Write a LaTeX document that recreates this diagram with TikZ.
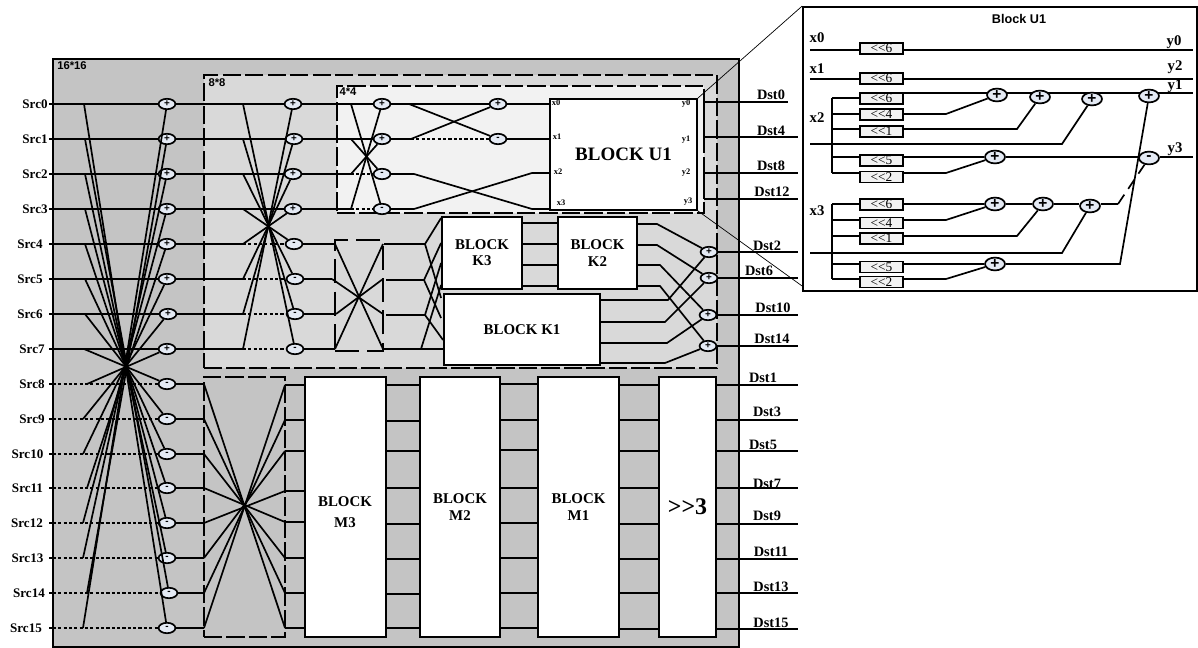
\documentclass[tikz,border=0pt]{standalone}
\usepackage{fontspec}
\setmainfont{Liberation Serif}
\setsansfont{Liberation Sans}
\usepackage{tikz}
\usetikzlibrary{shapes.geometric}
\definecolor{stagea}{HTML}{C4C4C4}
\definecolor{stageb}{HTML}{D9D9D9}
\definecolor{stagec}{HTML}{F2F2F2}
\definecolor{addfill}{HTML}{E4EAF4}

\begin{document}
\begin{tikzpicture}[
    x=0.025cm, y=-0.025cm,
    wire/.style={line width=1.2pt},
    dotwire/.style={line width=1.2pt, dash pattern=on 2.2pt off 1.6pt},
    brokenwire/.style={line width=1.2pt, dash pattern=on 8pt off 5pt},
    lens/.style={line width=0.5pt},
    stagebox/.style={rectangle, line width=1.2pt, dash pattern=on 13pt off 3pt, inner sep=0pt},
    blockbox/.style={rectangle, draw=black, line width=1.3pt, fill=white, inner sep=0pt, align=center,
                     font=\bfseries\fontsize{10.6}{11.5}\selectfont},
    shiftbox/.style={rectangle, draw=black, line width=1.2pt, fill=stagec, inner sep=0pt,
                     minimum width=1.075cm, minimum height=0.27cm, font=\fontsize{9.5}{8}\selectfont},
    adder/.style={ellipse, draw=black, line width=1.2pt, fill=addfill, inner sep=0pt,
                  minimum width=0.42cm, minimum height=0.26cm, font=\sffamily\bfseries\fontsize{7}{6}\selectfont},
    bigadder/.style={adder, minimum width=0.5cm, minimum height=0.32cm, font=\sffamily\bfseries\fontsize{11}{10}\selectfont},
    portl/.style={font=\bfseries\fontsize{9.3}{10}\selectfont, inner sep=0pt},
    dstl/.style={font=\bfseries\fontsize{10.2}{10}\selectfont, inner sep=0pt},
    pinl/.style={font=\bfseries\fontsize{6}{6}\selectfont, inner sep=0pt},
    busl/.style={font=\bfseries\fontsize{10.5}{10}\selectfont, inner sep=0pt},
    sizel/.style={font=\sffamily\bfseries\fontsize{8}{8}\selectfont, inner sep=0pt},
]
\useasboundingbox (0,0) rectangle (1198,648);

% nested stages
\node[stagebox, draw=black, fill=stagea, solid, line width=1.6pt, minimum width=17.15cm, minimum height=14.7cm] (s16) at (396,353) {};
\node[stagebox, draw=black, fill=stageb, minimum width=12.825cm, minimum height=7.325cm] (s8) at (460.5,221.5) {};
\node[stagebox, draw=black, fill=stagec, minimum width=9.175cm, minimum height=3.175cm] (s4) at (520.5,149.5) {};
\node[stagebox, draw=black, minimum width=2.025cm, minimum height=6.5cm] (sm) at (244.5,507) {};
\node[stagebox, draw=black, dash pattern=on 17pt off 6pt, minimum width=1.2cm, minimum height=2.775cm] (sq) at (359,295.5) {};
\node[sizel] (l16) at (72,66) {16*16};
\node[sizel] (l8) at (217,83) {8*8};
\node[sizel] (l4) at (348,92) {4*4};

% blocks
\node[blockbox, minimum width=3.675cm, minimum height=2.775cm, font=\bfseries\fontsize{13.5}{14}\selectfont] (u1) at (623.5,154.5) {BLOCK U1};
\node[blockbox, minimum width=2cm, minimum height=1.8cm] (k3) at (482,253) {BLOCK\\K3};
\node[blockbox, minimum width=1.975cm, minimum height=1.8cm] (k2) at (597.5,253) {BLOCK\\K2};
\node[blockbox, minimum width=3.9cm, minimum height=1.775cm] (k1) at (522,329.5) {BLOCK K1};
\node[blockbox, minimum width=2.025cm, minimum height=6.5cm] (m3) at (345.5,507) {};
\node[font=\bfseries\fontsize{10.6}{11.5}\selectfont, align=center, inner sep=0pt] (m3t) at (345,512) {BLOCK\\[3pt]M3};
\node[blockbox, minimum width=2cm, minimum height=6.5cm] (m2) at (460,507) {BLOCK\\M2};
\node[blockbox, minimum width=2.025cm, minimum height=6.5cm] (m1) at (578.5,507) {BLOCK\\M1};
\node[blockbox, minimum width=1.425cm, minimum height=6.5cm, font=\bfseries\fontsize{17}{17}\selectfont] (sh) at (687.5,507) {>{}>3};

% U1 pins
\node[pinl] (x0) at (556,103) {x0};
\node[pinl] (x1) at (557,137) {x1};
\node[pinl] (x2) at (558,172) {x2};
\node[pinl] (x3) at (561,203) {x3};
\node[pinl] (y0) at (686,104) {y0};
\node[pinl] (y1) at (686,140) {y1};
\node[pinl] (y2) at (686,173) {y2};
\node[pinl] (y3) at (688,202) {y3};

% 16 point inputs
\foreach \n/\y/\lx/\bx/\ax in {0/104/35/84/167, 1/139/35/85/167, 2/174/35/85/167, 3/209/35/85/167,
    4/244/30/85/167, 5/279/30/85/167, 6/314/30/85/168, 7/349/32/84/167}{
  \node[portl] (src\n) at (\lx,\y) {Src\n};
  \coordinate (in\n) at (49,\y);
  \coordinate (l\n) at (\bx,\y);
  \node[adder] (a\n) at (\ax,\y) {+};
  \draw[wire] (in\n) -- (a\n);
}
\foreach \n/\y/\lx/\bx/\ax in {8/384/32/87/167, 9/419/32/83/167, 10/454/27.5/83/167, 11/488/27.5/87/167,
    12/523/27/83/167, 13/558/27.5/83/167, 14/593/29/87/169, 15/628/26/83/167}{
  \node[portl] (src\n) at (\lx,\y) {Src\n};
  \coordinate (in\n) at (49,\y);
  \coordinate (b\n) at (53,\y);
  \coordinate (l\n) at (\bx,\y);
  \node[adder] (a\n) at (\ax,\y) {-};
  \draw[wire] (in\n) -- (b\n);
  \draw[dotwire] (b\n) -- (a\n);
}
\foreach \n in {0,...,15}{
  \pgfmathtruncatemacro{\m}{15-\n}
  \draw[wire] (l\n) -- (a\m);
}

% 8 point stage
\foreach \n/\y/\ax in {0/104/293, 1/139/294, 2/174/293, 3/209/293}{
  \node[adder] (c\n) at (\ax,\y) {+};
  \coordinate (cl\n) at (243,\y);
  \draw[wire] (a\n) -- (c\n);
}
\foreach \n/\y/\ax in {4/244/294, 5/279/295, 6/314/295, 7/349/295}{
  \node[adder] (c\n) at (\ax,\y) {-};
  \coordinate (cl\n) at (243,\y);
  \draw[wire] (a\n) -- (cl\n);
  \draw[dotwire] (cl\n) -- (c\n);
}
\foreach \n in {0,...,7}{
  \pgfmathtruncatemacro{\m}{7-\n}
  \draw[wire] (cl\n) -- (c\m);
}

% 8 point lower stage
\foreach \n/\y in {8/384,9/419,10/454,11/488,12/523,13/558,14/593,15/628}{
  \coordinate (ml\n) at (204,\y);
  \draw[wire] (a\n) -- (ml\n);
}
\foreach \n/\y in {8/385,9/420,10/451,11/491,12/522,13/558,14/593,15/628}{
  \coordinate (mr\n) at (285,\y);
  \draw[wire] (mr\n) -- (mr\n -| m3.west);
}
\foreach \n in {8,...,15}{
  \pgfmathtruncatemacro{\m}{23-\n}
  \draw[wire] (ml\n) -- (mr\m);
}

% 4 point stage
\foreach \n/\y/\k in {0/104/0,1/139/1}{
  \node[adder] (d\n) at (382,\y) {+};
  \coordinate (dl\n) at (351,\y);
  \draw[wire] (c\k) -- (d\n);
}
\foreach \n/\y/\k in {2/174/2,3/209/3}{
  \node[adder] (d\n) at (382,\y) {-};
  \coordinate (dl\n) at (351,\y);
  \draw[wire] (c\k) -- (dl\n);
  \draw[dotwire] (dl\n) -- (d\n);
}
\foreach \n in {0,...,3}{
  \pgfmathtruncatemacro{\m}{3-\n}
  \draw[wire] (dl\n) -- (d\m);
}
\node[adder] (e0) at (498,104) {+};
\node[adder] (e1) at (498,139) {-};
\coordinate (f0) at (409,104);
\coordinate (f1) at (411,139);
\coordinate (f2) at (414,174);
\coordinate (f3) at (414,209);
\coordinate (g2) at (532,173);
\coordinate (g3) at (532,209);
\draw[wire] (d0) -- (f0) -- (e1);
\draw[wire] (f0) -- (e0);
\draw[wire] (d1) -- (f1) -- (e0);
\draw[dotwire] (f1) -- (e1);
\draw[wire] (e0) -- (e0 -| u1.west);
\draw[wire] (e1) -- (e1 -| u1.west);
\draw[wire] (d2) -- (f2) -- (g3) -- (g3 -| u1.west);
\draw[wire] (d3) -- (f3) -- (g2) -- (g2 -| u1.west);

% inner butterfly before K blocks
\coordinate (ql0) at (335,244);
\coordinate (ql1) at (332,279);
\coordinate (ql2) at (336,314);
\coordinate (ql3) at (335,349);
\coordinate (qr0) at (383,349);
\coordinate (qr1) at (383,314);
\coordinate (qr2) at (383,279);
\coordinate (qr3) at (383,244);
\foreach \n/\k in {0/4,1/5,2/6,3/7}{
  \draw[wire] (c\k) -- (ql\n);
  \draw[wire] (ql\n) -- (qr\n);
}
\coordinate (t0) at (425,244);
\coordinate (t1) at (424,280);
\coordinate (t2) at (425,315);
\coordinate (t3) at (421,349);
\draw[wire] (384,244) -- (t0);
\draw[wire] (386,280) -- (t1);
\draw[wire] (386,315) -- (t2);
\draw[wire] (qr0) -- (t3) -- (t3 -| k1.west);
\draw[wire] (k3.west |- 0,218) -- (t0) -- (k3.west |- 0,298);
\draw[wire] (k3.west |- 0,243) -- (t1) -- (k3.west |- 0,318);
\draw[wire] (k3.west |- 0,263) -- (t2) -- (k1.west |- 0,340);
\draw[wire] (t3) -- (k3.west |- 0,285);

% K blocks to outputs
\foreach \y in {223,244,265,286}{
  \draw[wire] (k3.east |- 0,\y) -- (k2.west |- 0,\y);
}
\node[adder] (h0) at (709,252) {+};
\node[adder] (h1) at (709,278) {+};
\node[adder] (h2) at (708,315) {+};
\node[adder] (h3) at (708,346) {+};
\draw[wire] (k2.east |- 0,224) -- (657,224) -- (h0);
\draw[wire] (k2.east |- 0,245) -- (657,245) -- (h1);
\draw[wire] (k2.east |- 0,265) -- (660,265) -- (h2);
\draw[wire] (k2.east |- 0,286) -- (660,286) -- (h3);
\draw[wire] (k1.east |- 0,300) -- (668,300) -- (h0);
\draw[wire] (k1.east |- 0,322) -- (665,322) -- (h1);
\draw[wire] (k1.east |- 0,343) -- (667,343) -- (h2);
\draw[wire] (k1.east |- 0,363) -- (665,363) -- (h3);

% middle rows
\foreach \y in {385,421,451,488,524,559,594,628}{
  \draw[wire] (m3.east |- 0,\y) -- (m2.west |- 0,\y);
}
\foreach \y in {384,420,450,488,523,558,593,628}{
  \draw[wire] (m2.east |- 0,\y) -- (m1.west |- 0,\y);
}
\foreach \y in {385,420,451,488,524,559,593,629}{
  \draw[wire] (m1.east |- 0,\y) -- (sh.west |- 0,\y);
}

% outputs
\foreach \n/\y/\lx/\ly in {1/385/763/378, 3/420/767/412, 5/451/763/445, 7/488/767/484,
    9/524/767/516, 11/559/771/552, 13/593/771/587, 15/629/771/623}{
  \node[dstl] (dst\n) at (\lx,\ly) {Dst\n};
  \coordinate (o\n) at (798,\y);
  \draw[wire] (sh.east |- o\n) -- (o\n);
}
\foreach \n/\y/\lx/\ly/\k in {2/252/767/246/h0, 6/278/759/271/h1, 10/315/773/308/h2, 14/346/772/339/h3}{
  \node[dstl] (dst\n) at (\lx,\ly) {Dst\n};
  \coordinate (o\n) at (798,\y);
  \draw[wire] (\k) -- (o\n);
}
\foreach \n/\y/\lx/\ly/\ex in {0/102/771/95/788, 4/137/771/131/798, 8/173/771/166/798, 12/199/772/192/798}{
  \node[dstl] (dst\n) at (\lx,\ly) {Dst\n};
  \coordinate (o\n) at (\ex,\y);
  \coordinate (ob\n) at (704,\y);
  \draw[wire] (ob\n) -- (o\n);
}
\draw[wire] (ob0) -- (ob4);
\draw[wire] (ob8) -- (ob12);

% detail of U1
\node[rectangle, draw=black, line width=1.2pt, fill=white, inner sep=0pt, minimum width=9.85cm, minimum height=7.1cm] (panel) at (1000,149) {};
\draw[lens] (u1.north east) -- (panel.north west);
\draw[lens] (u1.south east) -- (panel.west |- 0,286);
\node[sizel, font=\sffamily\bfseries\fontsize{9}{9}\selectfont] (ptitle) at (1019,19) {Block U1};

\foreach \nm/\y/\t in {ux0/38/x0, ux1/69/x1, ux2/118/x2, ux3/211/x3}{
  \node[busl] (\nm) at (817,\y) {\t};
}
\foreach \nm/\x/\y/\t in {uy0/1174/42/y0, uy2/1175/67/y2, uy1/1175/86/y1, uy3/1175/149/y3}{
  \node[busl] (\nm) at (\x,\y) {\t};
}
\foreach \nm/\y/\t in {s0/48.5/6, s1/78.5/6, s26/98.5/6, s24/114.5/4, s21/131.5/1, s25/160.5/5, s22/177/2,
    s36/204.5/6, s34/223/4, s31/238.5/1, s35/267/5, s32/282/2}{
  \node[shiftbox] (\nm) at (881.5,\y) {<{}<\t};
}
\coordinate (ix0) at (810,50);
\coordinate (ix1) at (810,79);
\coordinate (oy0) at (1193,50);
\coordinate (oy2) at (1193,79);
\coordinate (oy1) at (1193,93);
\coordinate (oy3) at (1193,157);
\draw[wire] (ix0) -- (s0.west |- ix0);
\draw[wire] (s0.east |- ix0) -- (oy0);
\draw[wire] (ix1) -- (s1.west |- ix1);
\draw[wire] (s1.east |- ix1) -- (oy2);
\draw[wire] (s26.east |- oy1) -- (oy1);

% x2 tree
\coordinate (tx2) at (832,98);
\coordinate (tx2b) at (832,173);
\draw[wire] (tx2) -- (tx2b);
\foreach \nm/\y in {s26/98, s24/114, s21/129, s25/157, s22/173}{
  \draw[wire] (tx2 |- 0,\y) -- (\nm.west |- 0,\y);
}
% x3 tree
\coordinate (tx3) at (832,204);
\coordinate (tx3b) at (832,279);
\draw[wire] (tx3) -- (tx3b);
\foreach \nm/\y in {s36/204, s34/220, s31/236, s35/264, s32/279}{
  \draw[wire] (tx3 |- 0,\y) -- (\nm.west |- 0,\y);
}

\node[bigadder] (p1) at (997,95) {+};
\node[bigadder] (p2) at (1040,97) {+};
\node[bigadder] (p3) at (1092,99) {+};
\node[bigadder] (p4) at (1149,96) {+};
\node[bigadder] (p5) at (995,157) {+};
\node[bigadder] (pm) at (1149,158) {-};
\node[bigadder] (q1) at (995,204) {+};
\node[bigadder] (q2) at (1043,204) {+};
\node[bigadder] (q3) at (1090,206) {+};
\node[bigadder] (q4) at (995,264) {+};

\coordinate (ic2) at (810,144);
\coordinate (ic3) at (810,253);
\draw[wire] (s24.east |- 0,114) -- (946,114) -- (p1);
\draw[wire] (s21.east |- 0,129) -- (1017,129) -- (p2);
\draw[wire] (ic2) -- (1062,144) -- (p3);
\draw[wire] (s25.east |- 0,157) -- (p5);
\draw[wire] (p5) -- (p5 -| pm.west);
\draw[wire] (pm.east |- oy3) -- (oy3);
\draw[wire] (s22.east |- 0,173) -- (946,173) -- (p5);
\draw[wire] (s36.east |- 0,204) -- (q1);
\draw[wire] (q1) -- (q2);
\draw[wire] (q2) -- (q3.west |- q2);
\draw[wire] (q3.east |- q2) -- (1118,204);
\draw[brokenwire] (1118,204) -- (pm);
\draw[wire] (s34.east |- 0,220) -- (946,220) -- (q1);
\draw[wire] (s31.east |- 0,236) -- (1017,236) -- (q2);
\draw[wire] (ic3) -- (1062,253) -- (q3);
\draw[wire] (s35.east |- 0,264) -- (q4);
\draw[wire] (q4) -- (1120,264) -- (p4);
\draw[wire] (s32.east |- 0,279) -- (946,279) -- (q4);

\end{tikzpicture}
\end{document}
